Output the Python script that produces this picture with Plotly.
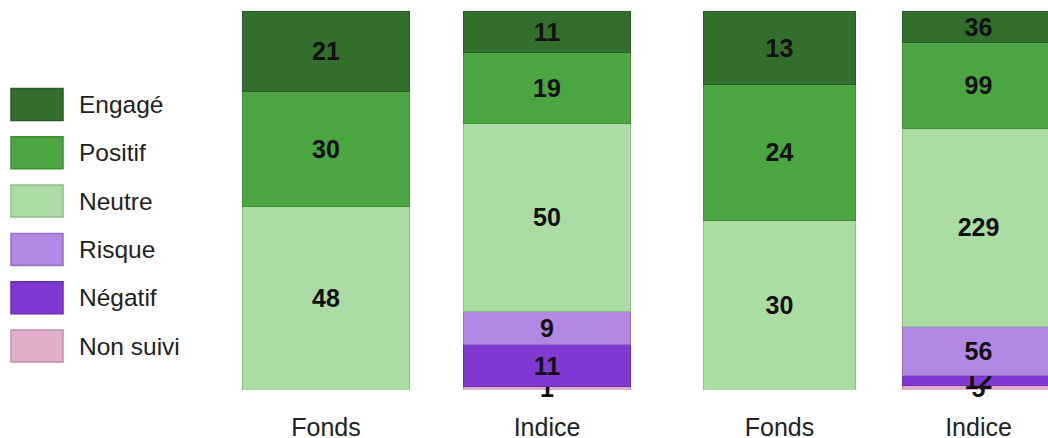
import plotly.graph_objects as go

groups = ["Fonds", "Indice"]
categories = ["Non suivi", "Négatif", "Risque", "Neutre", "Positif", "Engagé"]
# values per category: [Fonds, Indice] for the left and right pairs
left_values = {
    "Non suivi": [0, 1],
    "Négatif": [0, 11],
    "Risque": [0, 9],
    "Neutre": [48, 50],
    "Positif": [30, 19],
    "Engagé": [21, 11],
}
right_values = {
    "Non suivi": [0, 5],
    "Négatif": [0, 12],
    "Risque": [0, 56],
    "Neutre": [30, 229],
    "Positif": [24, 99],
    "Engagé": [13, 36],
}
colors = {
    "Engagé": "#346E2D",
    "Positif": "#4BA540",
    "Neutre": "#ABDCA3",
    "Risque": "#B287E3",
    "Négatif": "#8139D3",
    "Non suivi": "#E3AECB",
}
borders = {
    "Engagé": "#2A5A25",
    "Positif": "#3E8C35",
    "Neutre": "#8DBE86",
    "Risque": "#9570BF",
    "Négatif": "#6A2DB0",
    "Non suivi": "#C08FAA",
}

W, H = 1048, 438
FONT = "Liberation Sans, Arial, sans-serif"

fig = go.Figure()
for cat in categories:
    for vals, xa, ya in [(left_values, "x", "y"), (right_values, "x2", "y2")]:
        v = vals[cat]
        fig.add_trace(go.Bar(
            x=groups, y=v, name=cat, xaxis=xa, yaxis=ya,
            text=[str(t) if t else "" for t in v],
            textposition="inside", insidetextanchor="middle", textangle=0,
            constraintext="none", cliponaxis=False,
            textfont=dict(family=FONT, size=25, color="#111111", weight="bold"),
            marker=dict(color=colors[cat], line=dict(color=borders[cat], width=1)),
            showlegend=False, hoverinfo="skip",
        ))

top, bottom = 11, 390
ph = bottom - top
def py(p):
    return (bottom - p) / ph

# custom legend (large swatches)
legend_order = ["Engagé", "Positif", "Neutre", "Risque", "Négatif", "Non suivi"]
for i, cat in enumerate(legend_order):
    y0 = 88.5 + i * 48.3
    fig.add_shape(type="rect", xref="paper", yref="paper",
                  x0=11 / W, x1=63 / W, y0=py(y0 + 32), y1=py(y0),
                  fillcolor=colors[cat], line=dict(color=borders[cat], width=1.5))
    fig.add_annotation(xref="paper", yref="paper", x=77 / W, y=py(y0 + 16),
                       xanchor="left", yanchor="middle", showarrow=False,
                       text=cat, font=dict(family=FONT, size=24.5, color="#222222"))

slot1 = 221
slot2 = 199
x1_start = 215.5
x2_start = 680
tick_style = dict(showgrid=False, zeroline=False, showline=False, automargin=False,
                  ticks="outside", ticklen=15, tickcolor="rgba(0,0,0,0)",
                  tickfont=dict(family=FONT, size=25, color="#222222"))
fig.update_layout(
    width=W, height=H,
    margin=dict(l=0, r=0, t=top, b=H - bottom),
    barmode="stack", barnorm="percent", bargap=0.24,
    plot_bgcolor="white", paper_bgcolor="white",
    uniformtext=dict(minsize=25, mode="show"),
    xaxis=dict(domain=[x1_start / W, (x1_start + 2 * slot1) / W], range=[-0.5, 1.5], **tick_style),
    xaxis2=dict(domain=[x2_start / W, 1], range=[-0.5, -0.5 + (W - x2_start) / slot2], **tick_style),
    yaxis=dict(range=[0, 100.001], visible=False, automargin=False),
    yaxis2=dict(range=[0, 100.001], visible=False, anchor="x2", automargin=False),
)
fig.write_html(
    "out.html",
    config={"displayModeBar": False, "staticPlot": True},
    post_script="document.body.style.margin='0';"
                "document.body.style.overflow='hidden';"
                "document.documentElement.style.overflow='hidden';",
)
